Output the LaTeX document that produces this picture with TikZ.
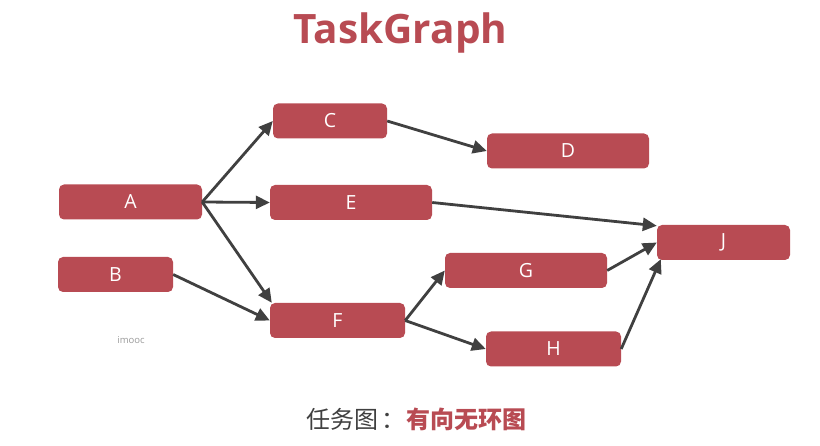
\documentclass[tikz,border=0pt]{standalone}
\usepackage{fontspec}
\setmainfont{Open Sans}
\newfontfamily\cjk{Noto Sans CJK SC}
\usetikzlibrary{arrows.meta}
\definecolor{nodered}{HTML}{B84B53}
\definecolor{edgegray}{HTML}{404040}
\begin{document}
\begin{tikzpicture}[x=1pt,y=-1pt,
  box/.style={fill=nodered, rounded corners=5pt, minimum height=35pt, text=white,
    font=\fontsize{19.5}{22}\selectfont, inner sep=0pt},
  edge/.style={draw=edgegray, line width=2.8pt, -{Triangle[length=14pt,width=13pt]}}]
\useasboundingbox (0,0) rectangle (820,446);
\node[anchor=base, text=nodered, font=\fontsize{40.5}{46}\selectfont\bfseries] (title) at (400.5,44) {TaskGraph};
\node[box, minimum width=143pt] (A) at (130.5,202) {A};
\node[box, minimum width=115pt] (B) at (115.5,274.5) {B};
\node[box, minimum width=114pt] (C) at (330,121) {C};
\node[box, minimum width=162pt] (D) at (568,151) {D};
\node[box, minimum width=162pt] (E) at (351,202.5) {E};
\node[box, minimum width=135pt] (F) at (337.5,320.5) {F};
\node[box, minimum width=162pt] (G) at (526,270.5) {G};
\node[box, minimum width=135pt] (H) at (553.5,349) {H};
\node[box, minimum width=133pt] (J) at (723.5,242.5) {J};
\node[text=gray!80, font=\fontsize{9.5}{11}\selectfont] (wm) at (131,340) {imooc};
\node[font=\cjk\fontsize{24}{28}\selectfont] (cap) at (416,419)
  {\textcolor{edgegray}{任务图\,：}\textcolor{nodered}{\bfseries 有向无环图}};
\draw[edge] (A.east) -- (C.west);
\draw[edge] (A.east) -- (E.west);
\draw[edge] (A.east) -- ([xshift=2pt]F.north west);
\draw[edge] (B.east) -- (F.west);
\draw[edge] (C.east) -- (D.west);
\draw[edge] (E.east) -- ([yshift=-1pt]J.north west);
\draw[edge] (G.east) -- (J.west);
\draw[edge] (H.east) -- ([xshift=4pt,yshift=1pt]J.south west);
\draw[edge] (F.east) -- (G.west);
\draw[edge] (F.east) -- (H.west);
\end{tikzpicture}
\end{document}
